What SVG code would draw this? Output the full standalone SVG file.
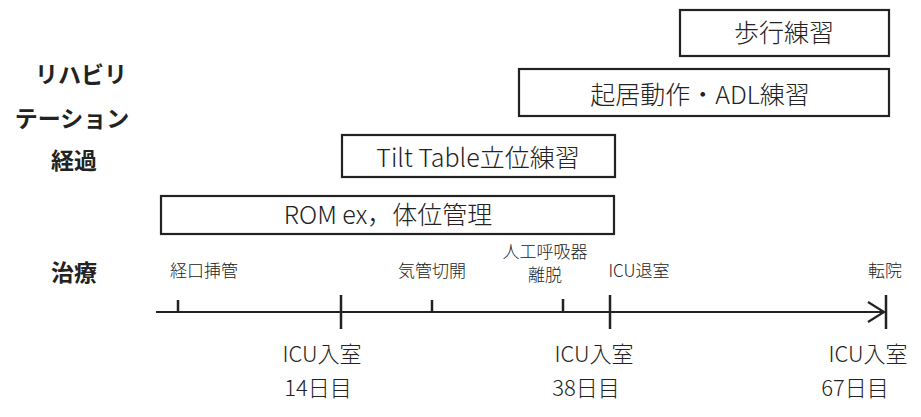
<svg xmlns="http://www.w3.org/2000/svg" width="921" height="417" viewBox="0 0 921 417">
<style>
text{font-family:"Noto Sans CJK JP","Noto Sans",sans-serif;fill:#222;}
.box{fill:#fff;stroke:#222;stroke-width:2.2;}
.bt{font-size:25px;font-weight:300;text-anchor:middle;}
.hd{font-size:23px;font-weight:700;text-anchor:middle;}
.ev{font-size:17px;font-weight:300;text-anchor:middle;}
.bl{font-size:22px;font-weight:300;text-anchor:middle;}
.ax{stroke:#222;stroke-width:2.2;fill:none;}
.tk{stroke:#222;stroke-width:2.5;}
</style>
<g id="headers">
<text class="hd" x="81" y="83">リハビリ</text>
<text class="hd" x="72" y="127">テーション</text>
<text class="hd" x="74" y="169">経過</text>
<text class="hd" x="74" y="281">治療</text>
</g>
<g id="walk"><rect class="box" x="680" y="10" width="209" height="46"/><text class="bt" x="784" y="42">歩行練習</text></g>
<g id="adl"><rect class="box" x="519" y="69" width="370" height="47"/><text class="bt" x="700" y="104">起居動作・ADL練習</text></g>
<g id="tilt"><rect class="box" x="342" y="135" width="273" height="42"/><text class="bt" x="478" y="167">Tilt Table立位練習</text></g>
<g id="rom"><rect class="box" x="161" y="196" width="453" height="38"/><text class="bt" x="388" y="224">ROM ex，体位管理</text></g>
<g id="connectors">
<line class="ax" x1="156" y1="312" x2="884" y2="312"/>
<polyline class="ax" points="868,302 884,312 868,322"/>
<line class="tk" x1="178" y1="300" x2="178" y2="312"/>
<line class="tk" x1="432" y1="300" x2="432" y2="312"/>
<line class="tk" x1="563" y1="299" x2="563" y2="312"/>
<line class="tk" x1="341" y1="295" x2="341" y2="329"/>
<line class="tk" x1="610" y1="295" x2="610" y2="329"/>
<line class="tk" x1="886" y1="295" x2="886" y2="329"/>
</g>
<g id="events">
<text class="ev" x="204" y="277">経口挿管</text>
<text class="ev" x="432" y="277">気管切開</text>
<text class="ev" x="545" y="258">人工呼吸器</text>
<text class="ev" x="545" y="281">離脱</text>
<text class="ev" x="639" y="277">ICU退室</text>
<text class="ev" x="885" y="277">転院</text>
</g>
<g id="days">
<text class="bl" x="322" y="362">ICU入室</text>
<text class="bl" x="318" y="396">14日目</text>
<text class="bl" x="594" y="362">ICU入室</text>
<text class="bl" x="586" y="396">38日目</text>
<text class="bl" x="868" y="362">ICU入室</text>
<text class="bl" x="855" y="396">67日目</text>
</g>
</svg>
